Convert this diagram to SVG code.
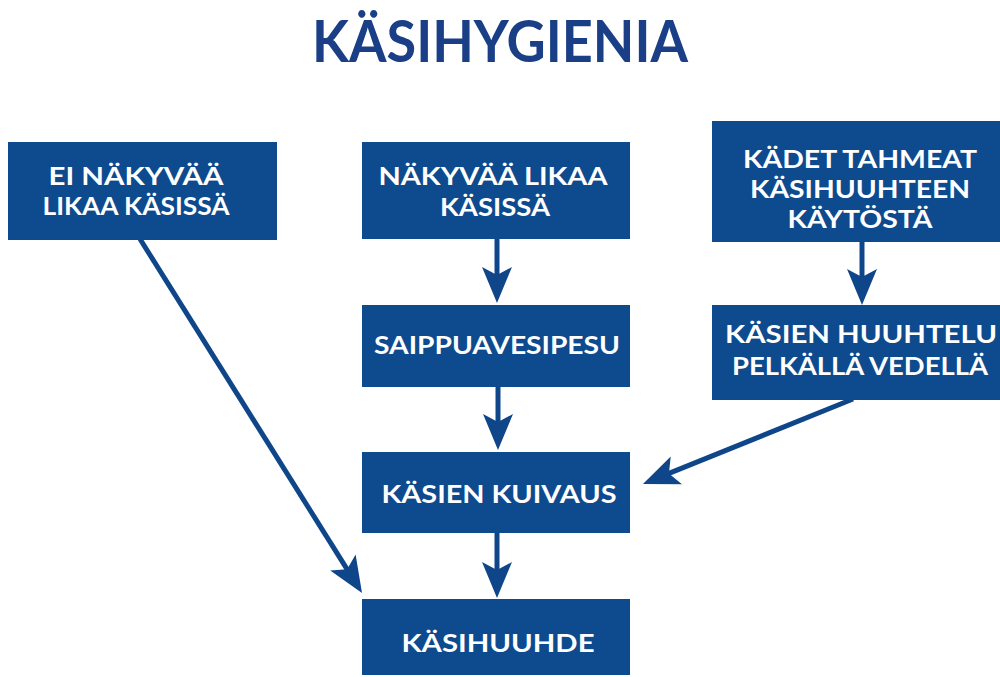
<svg xmlns="http://www.w3.org/2000/svg" width="1000" height="677" viewBox="0 0 1000 677">
  <style>
    .box { fill: #0d4a8e; }
    .t { font-family: Lato, "Open Sans", "Liberation Sans", sans-serif; font-weight: bold; font-size: 25px; fill: #ffffff; text-anchor: middle; }
    .title { font-family: Lato, "Open Sans", "Liberation Sans", sans-serif; font-weight: bold; font-size: 58px; fill: #1a3f86; text-anchor: middle; }
    .conn { stroke: #0f468a; stroke-width: 5; fill: none; marker-end: url(#ah); }
  </style>
  <defs>
    <marker id="ah" markerUnits="userSpaceOnUse" markerWidth="40" markerHeight="34" viewBox="-2 -17 40 34" refX="16" refY="0" orient="auto">
      <path d="M0,-15 L36,0 L0,15 L8,0 Z" fill="#0f468a"/>
    </marker>
  </defs>
  <rect width="1000" height="677" fill="#ffffff"/>
  <text class="title" x="500" y="62" textLength="376" lengthAdjust="spacingAndGlyphs">KÄSIHYGIENIA</text>

  <g id="connectors">
    <line class="conn" x1="497" y1="239" x2="497" y2="283"/>
    <line class="conn" x1="498" y1="387" x2="498" y2="430"/>
    <line class="conn" x1="497" y1="533" x2="497" y2="578"/>
    <line class="conn" x1="862" y1="242" x2="862" y2="285"/>
    <line class="conn" x1="853" y1="399" x2="661.5" y2="476.4"/>
    <line class="conn" x1="140" y1="239" x2="351.4" y2="576.1"/>
  </g>

  <g id="node-ei-nakyvaa">
    <rect class="box" x="8" y="142" width="269" height="98"/>
    <text class="t" x="136" y="185" textLength="175" lengthAdjust="spacingAndGlyphs">EI NÄKYVÄÄ</text>
    <text class="t" x="136" y="215" textLength="187" lengthAdjust="spacingAndGlyphs">LIKAA KÄSISSÄ</text>
  </g>
  <g id="node-nakyvaa">
    <rect class="box" x="362" y="142" width="268" height="97"/>
    <text class="t" x="493" y="185" textLength="229" lengthAdjust="spacingAndGlyphs">NÄKYVÄÄ LIKAA</text>
    <text class="t" x="495" y="216" textLength="110" lengthAdjust="spacingAndGlyphs">KÄSISSÄ</text>
  </g>
  <g id="node-kadet-tahmeat">
    <rect class="box" x="712" y="121" width="288" height="121"/>
    <text class="t" x="860" y="168" textLength="234" lengthAdjust="spacingAndGlyphs">KÄDET TAHMEAT</text>
    <text class="t" x="860" y="198" textLength="220" lengthAdjust="spacingAndGlyphs">KÄSIHUUHTEEN</text>
    <text class="t" x="860" y="228" textLength="145" lengthAdjust="spacingAndGlyphs">KÄYTÖSTÄ</text>
  </g>
  <g id="node-saippuavesipesu">
    <rect class="box" x="362" y="305" width="268" height="82"/>
    <text class="t" x="497" y="354" textLength="246" lengthAdjust="spacingAndGlyphs">SAIPPUAVESIPESU</text>
  </g>
  <g id="node-huuhtelu">
    <rect class="box" x="712" y="305" width="288" height="95"/>
    <text class="t" x="861" y="343" textLength="272" lengthAdjust="spacingAndGlyphs">KÄSIEN HUUHTELU</text>
    <text class="t" x="860" y="375" textLength="256" lengthAdjust="spacingAndGlyphs">PELKÄLLÄ VEDELLÄ</text>
  </g>
  <g id="node-kuivaus">
    <rect class="box" x="362" y="452" width="268" height="81"/>
    <text class="t" x="499" y="503" textLength="235" lengthAdjust="spacingAndGlyphs">KÄSIEN KUIVAUS</text>
  </g>
  <g id="node-kasihuuhde">
    <rect class="box" x="362" y="599" width="268" height="76"/>
    <text class="t" x="498" y="652" textLength="193" lengthAdjust="spacingAndGlyphs">KÄSIHUUHDE</text>
  </g>
</svg>
